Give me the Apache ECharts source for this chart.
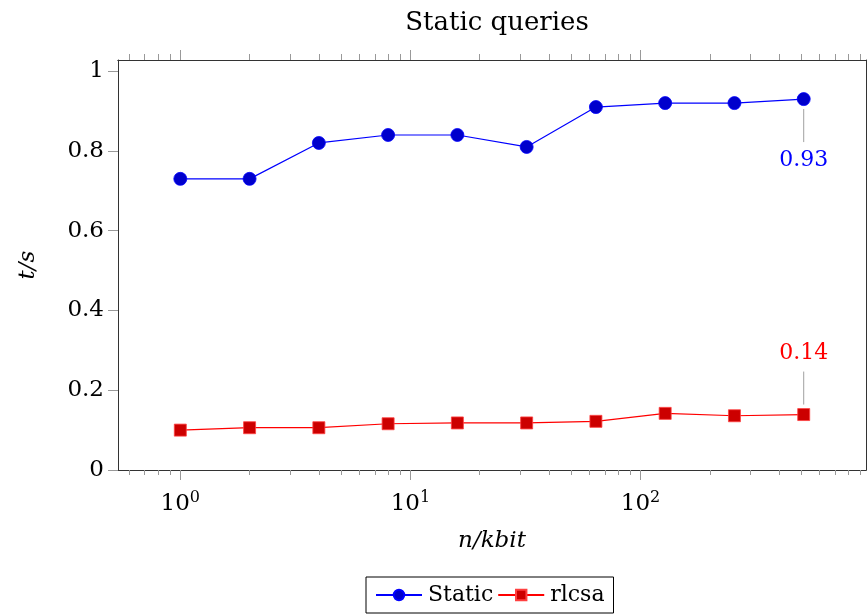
<!DOCTYPE html>
<html>
<head>
<meta charset="utf-8">
<script src="https://cdn.jsdelivr.net/npm/echarts@6/dist/echarts.min.js"></script>
<style>
  html, body { margin: 0; padding: 0; background: #fff; }
  #chart { width: 867px; height: 614px; }
</style>
</head>
<body>
<div id="chart"></div>
<script>
const sizes = [1, 2, 4, 8, 16, 32, 64, 128, 256, 512]
const staticTimes = [0.73, 0.73, 0.82, 0.84, 0.84, 0.81, 0.91, 0.92, 0.92, 0.93]
const rlcsaTimes = [0.10, 0.106, 0.106, 0.116, 0.118, 0.118, 0.122, 0.142, 0.136, 0.139]
const majorTicks = [1, 10, 100]
const minorTicks = [0.6, 0.7, 0.8, 0.9, 2, 3, 4, 5, 6, 7, 8, 9, 20, 30, 40, 50, 60, 70, 80, 90, 200, 300, 400, 500, 600, 700, 800, 900]
const yTicks = [0, 0.2, 0.4, 0.6, 0.8, 1]
// [x, y, label, direction]
const notes = [
  [512, 0.93, '0.93', 1],
  [512, 0.139, '0.14', -1]
]

const font = 'DejaVu Serif'
const xMin = 0.536
const xMax = 955
const yMax = 1.028

const chart = echarts.init(document.getElementById('chart'))

function xAxisDef(position, ticks, tickLen, withLabels) {
  return {
    type: 'log',
    logBase: 10,
    min: xMin,
    max: xMax,
    position: position,
    axisLine: { show: true, lineStyle: { color: '#333', width: 1 } },
    axisTick: {
      show: true,
      inside: false,
      length: tickLen,
      customValues: ticks,
      lineStyle: { color: '#999', width: 1 }
    },
    axisLabel: {
      show: withLabels,
      customValues: withLabels ? majorTicks : [],
      margin: 20,
      fontFamily: font,
      fontSize: 23,
      color: '#000',
      formatter: v => '10{sup|' + Math.round(Math.log10(v)) + '}',
      rich: {
        sup: { fontFamily: font, fontSize: 16, verticalAlign: 'top', padding: [0, 0, 12, 0], color: '#000' }
      }
    },
    splitLine: { show: false },
    minorTick: { show: false }
  }
}

const option = {
  animation: false,
  backgroundColor: '#fff',
  title: {
    text: 'Static queries',
    left: 492,
    textAlign: 'center',
    top: 5,
    textStyle: { fontFamily: font, fontSize: 26, fontWeight: 'normal', color: '#000' }
  },
  legend: {
    bottom: 1,
    left: 366,
    data: ['Static', 'rlcsa'],
    itemWidth: 46,
    itemHeight: 13,
    itemGap: 4,
    padding: [7, 9, 7, 9],
    borderColor: '#000',
    borderWidth: 1,
    borderRadius: 0,
    textStyle: { fontFamily: font, fontSize: 22, color: '#000', padding: [0, 0, 0, 1] }
  },
  grid: {
    left: 118,
    right: 1,
    top: 60,
    bottom: 144,
    containLabel: false
  },
  xAxis: [
    Object.assign(xAxisDef('bottom', majorTicks, 10, true), {
      name: 'n/kbit',
      nameLocation: 'middle',
      nameGap: 60,
      nameTextStyle: { fontFamily: font, fontSize: 23, fontStyle: 'italic', color: '#000' }
    }),
    xAxisDef('bottom', minorTicks, 5, false),
    xAxisDef('top', majorTicks, 10, false),
    xAxisDef('top', minorTicks, 6, false)
  ],
  yAxis: [
    {
      type: 'value',
      min: 0,
      max: yMax,
      position: 'left',
      name: 't/s',
      nameLocation: 'middle',
      nameGap: 78,
      nameRotate: 90,
      nameTextStyle: { fontFamily: font, fontSize: 23, fontStyle: 'italic', color: '#000' },
      axisLine: { show: true, lineStyle: { color: '#333', width: 1 } },
      axisTick: { show: true, inside: false, length: 10, customValues: yTicks, lineStyle: { color: '#999' } },
      axisLabel: {
        margin: 14,
        customValues: yTicks,
        fontFamily: font,
        fontSize: 23,
        color: '#000',
        formatter: v => String(Math.round(v * 10) / 10)
      },
      splitLine: { show: false }
    },
    {
      type: 'value',
      min: 0,
      max: yMax,
      position: 'right',
      axisLine: { show: true, lineStyle: { color: '#333', width: 1 } },
      axisTick: { show: false },
      axisLabel: { show: false },
      splitLine: { show: false }
    }
  ],
  series: [
    {
      name: 'Static',
      type: 'line',
      xAxisIndex: 0,
      yAxisIndex: 0,
      data: sizes.map((s, i) => [s, staticTimes[i]]),
      symbol: 'circle',
      symbolSize: 13,
      lineStyle: { color: '#0000ff', width: 1.2 },
      itemStyle: { color: '#0000cc', borderColor: '#0000ff', borderWidth: 0.8 }
    },
    {
      name: 'rlcsa',
      type: 'line',
      xAxisIndex: 0,
      yAxisIndex: 0,
      data: sizes.map((s, i) => [s, rlcsaTimes[i]]),
      symbol: 'rect',
      symbolSize: 12,
      lineStyle: { color: '#ff0000', width: 1.2 },
      itemStyle: { color: '#cc0000', borderColor: '#ff4040', borderWidth: 0.8 }
    },
    {
      type: 'custom',
      xAxisIndex: 0,
      yAxisIndex: 0,
      silent: true,
      clip: false,
      z: 5,
      data: notes,
      renderItem: function (params, api) {
        const p = api.coord([api.value(0), api.value(1)])
        const dir = notes[params.dataIndex][3]
        const label = notes[params.dataIndex][2]
        const color = dir > 0 ? '#0000ff' : '#ff0000'
        return {
          type: 'group',
          children: [
            {
              type: 'line',
              shape: { x1: p[0], y1: p[1] + dir * 10, x2: p[0], y2: p[1] + dir * 43 },
              style: { stroke: '#a0a0a0', lineWidth: 1 }
            },
            {
              type: 'text',
              style: {
                x: p[0],
                y: p[1] + dir * 61,
                text: label,
                fill: color,
                font: '22px "' + font + '"',
                textAlign: 'center',
                textVerticalAlign: 'middle'
              }
            }
          ]
        }
      }
    }
  ]
}

chart.setOption(option)
window.onresize = () => {
  chart.resize()
}
</script>
</body>
</html>
